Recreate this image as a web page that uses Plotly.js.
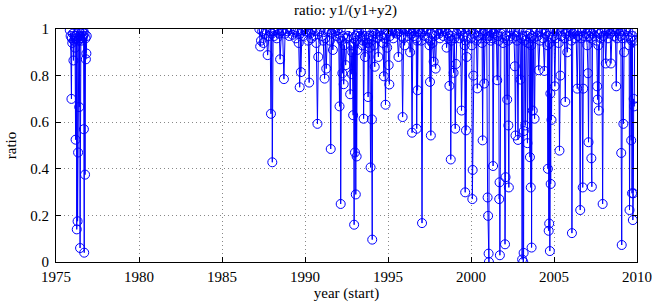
<!DOCTYPE html>
<html>
<head>
<meta charset="utf-8">
<script src="https://cdn.plot.ly/plotly-3.0.1.min.js"></script>
<style>html,body{margin:0;padding:0;background:#fff;}#chart{width:652px;height:302px;}</style>
</head>
<body>
<div id="chart"></div>
<script>
// Early cluster (1975-1977)
const earlyYears = [1975.83,1975.88,1975.93,1975.95,1975.98,1976.02,1976.05,1976.08,1976.12,1976.15,1976.18,1976.2,1976.23,1976.25,1976.27,1976.3,1976.33,1976.35,1976.38,1976.4,1976.43,1976.45,1976.48,1976.5,1976.53,1976.57,1976.6,1976.63,1976.66,1976.68,1976.7,1976.72,1976.75,1976.78,1976.8,1976.83,1976.85];
const earlyRatio = [0.995,0.97,0.70,0.96,0.94,0.98,0.865,0.95,0.97,0.92,0.525,0.97,0.96,0.14,0.98,0.175,0.47,0.95,0.99,0.665,0.97,0.06,0.96,0.98,0.95,0.99,0.96,0.97,0.99,0.57,0.04,0.98,0.375,0.96,0.87,0.895,0.97];

// Later series (1987-2010)
const lateYears = [
 1987.25,1987.3,1987.35,1987.42,1987.5,1987.58,1987.65,1987.75,1987.82,1987.9,1987.95,1988.0,1988.03,1988.08,
 1988.15,1988.22,1988.3,1988.38,1988.45,1988.5,1988.58,1988.65,1988.73,1988.8,1988.88,1988.95,1989.05,1989.15,1989.25,1989.35,1989.45,1989.55,1989.62,1989.68,1989.72,1989.75,1989.82,1989.9,1989.97,
 1990.05,1990.12,1990.2,1990.25,1990.3,1990.38,1990.45,1990.52,1990.6,1990.68,1990.75,1990.8,1990.88,1990.95,1991.02,1991.1,1991.18,1991.22,1991.28,1991.35,1991.42,1991.5,1991.55,1991.6,1991.68,1991.75,1991.82,1991.9,1991.97,
 1992.03,1992.08,1992.12,1992.15,1992.2,1992.25,1992.3,1992.33,1992.38,1992.45,1992.52,1992.6,1992.67,1992.72,1992.77,1992.82,1992.85,1992.9,1992.93,1992.96,1992.98,1993.01,1993.03,1993.06,1993.08,1993.11,1993.15,1993.2,
 1993.25,1993.32,1993.38,1993.45,1993.5,1993.53,1993.58,1993.62,1993.68,1993.73,1993.78,1993.8,1993.85,1993.9,1993.95,1993.99,1994.03,1994.05,1994.08,1994.12,1994.16,1994.2,1994.25,1994.3,
 1994.35,1994.42,1994.5,1994.57,1994.63,1994.7,1994.75,1994.8,1994.85,1994.9,1994.95,1995.0,1995.04,1995.08,1995.12,1995.18,1995.25,1995.32,1995.38,1995.45,1995.5,
 1995.55,1995.63,1995.7,1995.76,1995.82,1995.88,1995.94,1996.0,1996.07,1996.14,1996.2,1996.27,1996.33,1996.4,1996.45,1996.5,1996.57,1996.63,1996.7,1996.73,1996.76,1996.78,1996.82,1996.88,
 1996.95,1997.0,1997.05,1997.1,1997.17,1997.24,1997.3,1997.37,1997.44,1997.5,1997.53,1997.56,1997.58,1997.62,1997.68,1997.75,1997.8,1997.87,1997.93,1998.0,1998.07,1998.13,1998.2,1998.27,
 1998.33,1998.4,1998.47,1998.53,1998.6,1998.66,1998.7,1998.74,1998.78,1998.83,1998.9,1998.95,1999.0,1999.05,1999.1,1999.15,1999.22,1999.3,1999.37,1999.43,1999.5,1999.56,1999.62,1999.65,1999.68,1999.7,1999.74,
 1999.8,1999.87,1999.93,2000.0,2000.05,2000.08,2000.1,2000.14,2000.2,2000.27,2000.33,2000.38,2000.43,2000.5,2000.56,2000.62,2000.67,2000.7,2000.74,2000.8,2000.85,2000.9,2000.95,2001.0,2001.03,2001.06,2001.08,2001.1,
 2001.15,2001.2,2001.25,2001.3,2001.33,2001.38,2001.45,2001.52,2001.58,2001.63,2001.67,2001.7,2001.72,2001.74,2001.8,2001.87,2001.93,2002.0,2002.05,2002.08,2002.12,2002.18,2002.22,2002.25,2002.28,2002.32,
 2002.38,2002.45,2002.52,2002.58,2002.64,2002.68,2002.72,2002.78,2002.83,2002.88,2002.93,2002.98,2003.03,2003.08,2003.12,2003.15,2003.17,2003.18,2003.22,2003.27,2003.32,2003.36,2003.4,2003.45,2003.5,2003.55,2003.58,2003.6,2003.63,2003.65,2003.68,
 2003.72,2003.78,2003.83,2003.88,2003.95,2004.02,2004.08,2004.15,2004.22,2004.28,2004.35,2004.42,2004.48,2004.55,2004.6,2004.63,2004.66,2004.68,2004.71,2004.73,2004.75,2004.78,2004.8,2004.83,2004.85,2004.9,2004.95,
 2005.0,2005.05,2005.1,2005.17,2005.23,2005.28,2005.33,2005.38,2005.43,2005.5,2005.57,2005.63,2005.68,2005.73,2005.8,2005.87,2005.93,2006.0,2006.05,2006.08,2006.13,2006.2,2006.27,
 2006.33,2006.4,2006.45,2006.52,2006.58,2006.63,2006.68,2006.73,2006.76,2006.8,2006.87,2006.93,2007.0,2007.05,2007.08,2007.12,2007.18,2007.22,2007.25,2007.28,2007.32,2007.38,2007.45,2007.52,2007.57,2007.6,2007.63,2007.67,2007.7,
 2007.75,2007.82,2007.88,2007.93,2007.98,2008.05,2008.12,2008.18,2008.25,2008.32,2008.38,2008.43,2008.5,2008.57,2008.63,2008.7,2008.75,2008.8,2008.87,2008.93,2009.0,
 2009.03,2009.05,2009.08,2009.12,2009.18,2009.22,2009.28,2009.35,2009.42,2009.48,2009.53,2009.55,2009.6,2009.65,2009.68,2009.7,2009.73,2009.75,2009.78,2009.8,2009.83,2009.86,2009.88
];
const lateRatio = [
 1.0,0.925,0.95,0.99,0.94,0.98,0.995,0.888,0.97,0.99,0.636,0.98,0.428,0.99,
 0.97,0.995,0.96,1.0,0.98,0.87,0.99,0.995,0.785,0.98,1.0,0.99,0.97,1.0,0.975,0.985,0.96,0.99,0.94,0.75,0.98,0.815,0.995,0.97,1.0,
 0.99,1.0,0.95,0.77,0.98,0.96,1.0,0.97,0.99,0.94,0.593,0.88,0.99,1.0,0.97,0.95,0.787,0.96,0.83,0.99,1.0,0.95,0.485,0.98,0.91,1.0,0.99,0.97,0.995,
 0.98,0.668,0.96,0.249,0.95,0.81,0.97,0.763,0.93,0.845,0.96,0.97,0.99,0.72,0.93,0.806,0.9,0.63,0.96,0.16,0.94,0.47,0.97,0.29,0.95,0.453,0.91,0.98,
 0.99,0.97,1.0,0.93,0.95,0.615,0.97,0.88,0.99,0.96,0.94,0.708,0.97,0.92,0.406,0.95,0.612,0.096,0.97,0.99,0.93,0.838,0.98,1.0,
 0.96,0.88,0.99,0.97,1.0,0.94,0.797,0.96,0.675,0.98,0.92,0.99,0.845,0.762,0.97,1.0,0.99,0.96,1.0,0.985,0.99,
 0.98,0.88,0.99,1.0,0.97,0.622,0.96,0.93,1.0,0.99,0.97,1.0,0.9,0.98,0.555,0.99,0.97,1.0,0.96,0.572,0.95,0.737,0.99,1.0,
 0.98,0.95,0.167,0.99,1.0,0.97,0.99,1.0,0.96,0.93,0.773,0.95,0.543,0.98,0.94,0.86,0.97,0.83,0.99,1.0,0.98,0.96,1.0,0.99,
 0.97,1.0,0.99,0.92,0.98,0.96,0.756,0.97,0.44,0.95,0.99,0.812,0.96,0.572,0.85,0.98,1.0,0.96,0.99,0.65,0.97,1.0,0.93,0.299,0.95,0.565,0.88,
 0.97,1.0,0.99,0.96,0.93,0.27,0.395,0.8,0.98,1.0,0.95,0.745,0.97,0.99,1.0,0.96,0.94,0.522,0.98,0.766,0.99,1.0,0.96,0.277,0.198,0.036,0.0,0.97,
 0.99,0.95,1.0,0.96,0.412,0.98,0.99,1.0,0.78,0.97,0.95,0.27,0.342,0.029,0.98,0.99,0.94,0.96,0.076,0.364,0.97,0.697,0.95,0.586,0.32,0.99,
 0.97,1.0,0.96,0.99,0.84,0.543,0.97,0.95,0.524,0.99,1.0,0.783,0.96,0.011,0.97,0.0,0.039,0.562,0.95,0.586,0.99,0.97,0.51,0.94,0.98,0.45,0.96,0.32,0.93,0.062,0.97,
 0.65,0.96,0.615,0.99,1.0,0.97,0.823,0.95,0.99,1.0,0.96,0.82,0.98,0.99,0.93,0.4,0.97,0.134,0.165,0.94,0.047,0.723,0.335,0.96,0.61,0.99,1.0,
 0.97,0.754,0.96,0.99,1.0,0.94,0.478,0.8,0.97,0.99,1.0,0.96,0.687,0.98,0.9,0.99,0.97,1.0,0.95,0.124,0.98,0.99,0.96,
 0.99,0.744,0.97,0.99,0.223,0.96,0.99,0.32,0.744,0.97,1.0,0.98,0.93,0.81,0.514,0.97,0.99,0.96,0.445,0.323,0.98,1.0,0.97,0.99,0.95,0.754,0.697,0.93,0.65,
 0.98,0.96,0.99,0.249,0.97,1.0,0.852,0.99,0.96,1.0,0.98,0.852,0.99,1.0,0.97,0.99,0.754,0.96,1.0,0.98,0.99,
 0.97,0.468,0.073,0.96,0.593,0.9,0.99,1.0,0.97,0.99,0.93,0.223,0.96,0.522,0.95,0.295,0.97,0.18,0.295,0.7,0.668,0.95,0.99
];

const xTicks = [1975,1980,1985,1990,1995,2000,2005,2010];
const yTicks = [0,0.2,0.4,0.6,0.8,1];
const yTickText = ['0','0.2','0.4','0.6','0.8','1'];

const style = {
  mode: 'lines+markers',
  line: {color: '#0000ff', width: 1},
  marker: {symbol: 'circle-open', size: 9, color: '#0000ff', line: {width: 1, color: '#0000ff'}},
  showlegend: false,
  hoverinfo: 'skip'
};

const traces = [
  Object.assign({x: earlyYears, y: earlyRatio, type: 'scatter'}, style),
  Object.assign({x: lateYears, y: lateRatio, type: 'scatter'}, style)
];

const fontFam = '"Liberation Serif", "Times New Roman", serif';
const axisCommon = {
  showline: true, linecolor: '#000', linewidth: 1, mirror: 'ticks',
  ticks: 'inside', ticklen: 5, tickcolor: '#000', tickwidth: 1,
  showgrid: true, gridcolor: '#888', griddash: '1px,3px', gridwidth: 1,
  zeroline: false,
  tickfont: {family: fontFam, size: 15, color: '#000'}
};

const layout = {
  width: 652, height: 302,
  margin: {l: 56, r: 15, t: 29, b: 40},
  paper_bgcolor: '#fff', plot_bgcolor: '#fff',
  title: {text: 'ratio: y1/(y1+y2)', font: {family: fontFam, size: 15, color: '#000'}, x: 0.53, xanchor: 'center', y: 0.985, yanchor: 'top'},
  xaxis: Object.assign({}, axisCommon, {
    range: [1975, 2010], tickvals: xTicks, ticktext: xTicks.map(String),
    ticklabelstandoff: 1,
    title: {text: 'year (start)', font: {family: fontFam, size: 15, color: '#000'}, standoff: 0}
  }),
  yaxis: Object.assign({}, axisCommon, {
    range: [0, 1], tickvals: yTicks, ticktext: yTickText,
    ticklabelstandoff: 3,
    title: {text: 'ratio', font: {family: fontFam, size: 15, color: '#000'}, standoff: 10}
  })
};

Plotly.newPlot('chart', traces, layout, {staticPlot: true, displayModeBar: false});
</script>
</body>
</html>
